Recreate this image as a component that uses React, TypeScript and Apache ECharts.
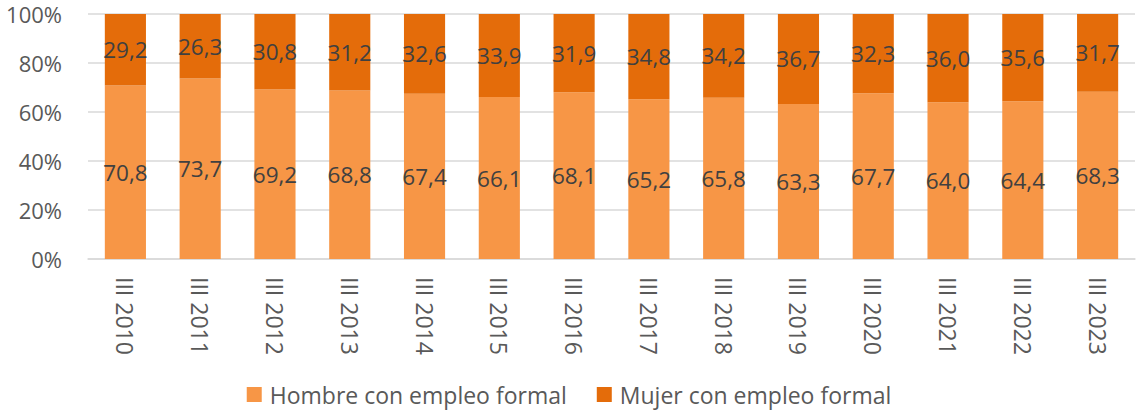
import React, { useEffect, useRef } from "react";
import * as echarts from "echarts";

const categories = ["III 2010", "III 2011", "III 2012", "III 2013", "III 2014", "III 2015", "III 2016", "III 2017", "III 2018", "III 2019", "III 2020", "III 2021", "III 2022", "III 2023"];
const hombre = [70.8, 73.7, 69.2, 68.8, 67.4, 66.1, 68.1, 65.2, 65.8, 63.3, 67.7, 64.0, 64.4, 68.3];
const mujer = [29.2, 26.3, 30.8, 31.2, 32.6, 33.9, 31.9, 34.8, 34.2, 36.7, 32.3, 36.0, 35.6, 31.7];
const seriesNames = ["Hombre con empleo formal", "Mujer con empleo formal"];

const FONT = "'Open Sans', 'Noto Sans', sans-serif";
const fmt = (p: any) => Number(p.value).toFixed(1).replace(".", ",");

export default function App() {
  const ref = useRef<HTMLDivElement>(null);
  useEffect(() => {
    const chart = echarts.init(ref.current!, null, { renderer: "svg" });
    const label = {
      show: true,
      position: "inside" as const,
      formatter: fmt,
      fontFamily: FONT,
      fontSize: 22.5,
      color: "#404040",
    };
    chart.setOption({
      animation: false,
      textStyle: { fontFamily: FONT },
      grid: { left: 88, right: 3, top: 14, height: 245 },
      legend: {
        bottom: 3,
        left: "center",
        itemWidth: 15,
        itemHeight: 15,
        itemGap: 30,
        icon: "rect",
        textStyle: { fontFamily: FONT, fontSize: 23, color: "#595959", padding: [0, 0, 0, 3] },
        data: seriesNames,
      },
      xAxis: {
        type: "category",
        data: categories,
        axisLine: { show: true, lineStyle: { color: "#d9d9d9", width: 1.5 } },
        axisTick: { show: false },
        axisLabel: { rotate: -90, margin: 18, fontFamily: FONT, fontSize: 23, color: "#595959" },
      },
      yAxis: {
        type: "value",
        min: 0,
        max: 100,
        interval: 20,
        axisLabel: { formatter: "{value}%", fontFamily: FONT, fontSize: 22, color: "#595959", margin: 26, lineHeight: 22 },
        splitLine: { lineStyle: { color: "#d9d9d9", width: 1.5 } },
        axisLine: { show: false },
        axisTick: { show: false },
      },
      series: [
        { name: seriesNames[0], type: "bar", stack: "t", data: hombre, barWidth: "55%", itemStyle: { color: "#F79646" }, label },
        { name: seriesNames[1], type: "bar", stack: "t", data: mujer, barWidth: "55%", itemStyle: { color: "#E46C0A" }, label },
      ],
    });
    return () => chart.dispose();
  }, []);
  return <div ref={ref} style={{ position: "fixed", left: 0, top: 0, width: 1138, height: 414, background: "#fff" }} />;
}
